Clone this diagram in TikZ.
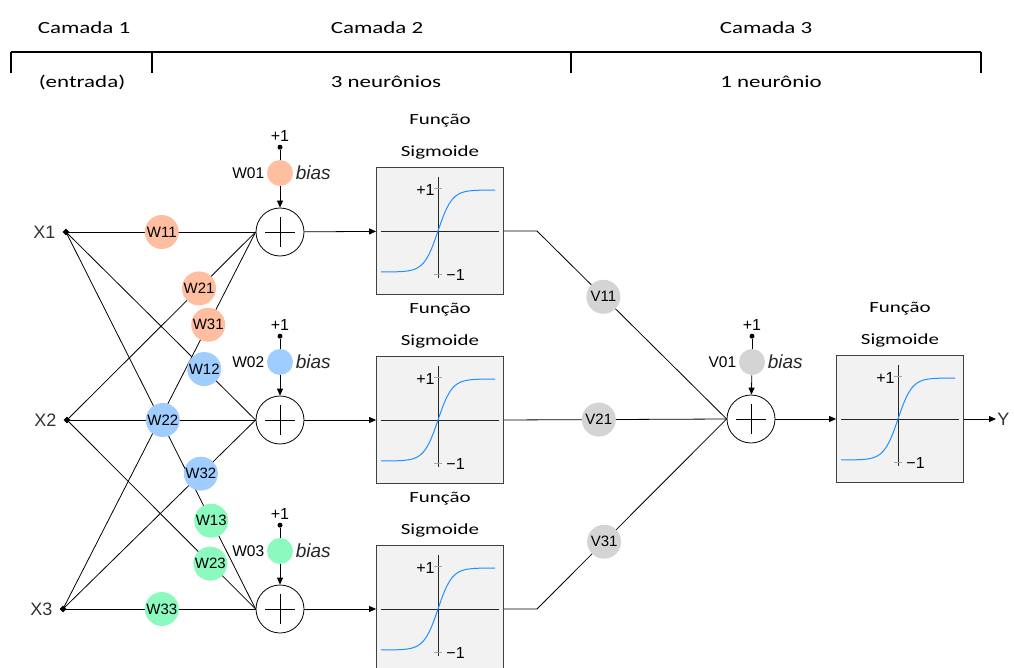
\documentclass[tikz,border=0pt]{standalone}
\usepackage{fontspec}
\setmainfont{Liberation Sans}
\newfontfamily\calfont[FakeStretch=1.35]{Carlito}
\usetikzlibrary{shapes.geometric, arrows.meta, positioning}

\definecolor{wone}{RGB}{255,190,160}
\definecolor{wtwo}{RGB}{160,205,255}
\definecolor{wthree}{RGB}{140,250,190}
\definecolor{vgray}{RGB}{212,212,212}
\definecolor{sigblue}{RGB}{30,144,255}
\definecolor{boxgray}{RGB}{242,242,242}

\tikzset{
  layertext/.style={font=\calfont\fontsize{17}{20}\selectfont, inner sep=0pt},
  functext/.style={font=\calfont\fontsize{15.5}{18}\selectfont, inner sep=0pt, text height=12pt, text depth=4pt},
  inputdot/.style={diamond, fill, inner sep=0pt, minimum size=7pt},
  inputtext/.style={font=\fontsize{18}{20}\selectfont, text=black!80},
  wnode/.style={circle, inner sep=0pt, minimum size=34pt, font=\fontsize{15}{17}\selectfont},
  biasnode/.style={circle, inner sep=0pt, minimum size=26pt},
  biasdot/.style={circle, fill, inner sep=0pt, minimum size=5pt},
  wlabel/.style={font=\fontsize{15.5}{17}\selectfont, inner sep=1pt},
  biastext/.style={font=\itshape\fontsize{19}{21}\selectfont, text=black!85, inner sep=1pt},
  onetext/.style={font=\fontsize{16}{18}\selectfont, inner sep=0pt},
  sumnode/.style={circle, draw, inner sep=0pt, minimum size=48pt},
  sigbox/.style={draw=black!75, fill=boxgray, inner sep=0pt, minimum size=127pt},
  arr/.style={-{Triangle[length=7pt, width=6pt]}}
}

\begin{document}
\begin{tikzpicture}[x=1pt, y=-1pt, line width=0.8pt]
  \useasboundingbox (0,0) rectangle (1014,668);

  % Layers
  \draw[line width=1.2pt] (11,52) -- (981,52);
  \foreach \x in {11,152,571,981}
    \draw[line width=1.2pt] (\x,52) -- (\x,73);
  \node[layertext] (cam1) at (84,28) {Camada 1};
  \node[layertext] (cam2) at (377,28) {Camada 2};
  \node[layertext] (cam3) at (766,28) {Camada 3};
  \node[layertext] (ent) at (82,82) {(entrada)};
  \node[layertext] (neu2) at (386,82) {3 neurônios};
  \node[layertext] (neu3) at (771,82) {1 neurônio};

  % Inputs
  \foreach \i/\x/\y in {1/66/232, 2/67/420, 3/63/609} {
    \node[inputdot] (x\i) at (\x,\y) {};
    \node[inputtext, left=3pt of x\i] (xl\i) {X\i};
  }

  % Summing junctions
  \foreach \j/\y in {1/232, 2/420, 3/609}
    \node[sumnode] (s\j) at (280,\y) {};
  \node[sumnode] (s4) at (751,419) {};
  \foreach \s in {s1,s2,s3,s4}
    \draw (\s.center) +(-15,0) -- +(15,0) (\s.center) +(0,-15) -- +(0,15);

  % Synapses
  \foreach \i in {1,2,3}
    \foreach \j in {1,2,3}
      \draw (x\i.center) -- (s\j.west);
  \foreach \i/\j/\p/\c in {1/1/.505/wone, 2/1/.70/wone, 3/1/.754/wone,
                           1/2/.729/wtwo, 2/2/.508/wtwo, 3/2/.716/wtwo,
                           1/3/.766/wthree, 2/3/.76/wthree, 3/3/.513/wthree}
    \path (x\i.center) -- (s\j.west) node[wnode, fill=\c, pos=\p] (w\i\j) {W\i\j};

  % Biases
  \foreach \j/\x/\y/\c/\w in {1/280/173/wone/W01, 2/280/362/wtwo/W02,
                              3/280/551/wthree/W03, 4/752/362/vgray/V01} {
    \node[biasnode, fill=\c] (b\j) at (\x,\y) {};
    \node[biasdot, above=9.5pt of b\j] (p\j) {};
    \node[onetext, above=2pt of p\j] (one\j) {+1};
    \node[wlabel, left=1pt of b\j] (bl\j) {\w};
    \node[biastext, right=1pt of b\j] (bt\j) {bias};
    \draw (p\j) -- (b\j);
    \draw[arr] (b\j) -- (s\j);
  }

  % Sigmoid boxes
  \foreach \j/\x/\y in {1/440/231, 2/440/420, 3/440/609, 4/900/419}
    \node[sigbox] (f\j) at (\x,\y) {};
  \foreach \fn in {f1,f2,f3,f4} {
    \begin{scope}[shift={(\fn.center)}]
      \draw[black!85] (-59,0) -- (59,0);
      \draw[black!85] (-2,-54) -- (-2,47);
      \draw[black!35] (-6,-43) -- (2,-43) (-6,43) -- (2,43);
      \draw[sigblue, line width=1pt] plot[domain=-57:57, samples=60] ({\x-2}, {-41*tanh(\x/14)});
      \node[onetext, anchor=east] at (-5,-41) {+1};
      \node[onetext, anchor=west] at (6,44) {−1};
    \end{scope}
    \node[functext, above=6pt of \fn] (\fn-s) {Sigmoide};
    \node[functext, above=15pt of \fn-s] (\fn-t) {Função};
  }

  % Connections
  \foreach \j in {1,2,3,4}
    \draw[arr] (s\j) -- (f\j);
  \coordinate (c1) at (537,231);
  \coordinate (c3) at (537,609);
  \draw (f1.east) -- (c1) -- node[wnode, fill=vgray, pos=.35] (v11) {V11} (s4.west);
  \draw (f2.east) -- node[wnode, fill=vgray, pos=.426] (v21) {V21} (s4.west);
  \draw (f3.east) -- (c3) -- node[wnode, fill=vgray, pos=.354] (v31) {V31} (s4.west);

  % Output
  \node[inputtext, anchor=west, inner sep=1pt] (out) at (996,419) {Y};
  \draw[arr] (f4) -- (out);
\end{tikzpicture}
\end{document}
